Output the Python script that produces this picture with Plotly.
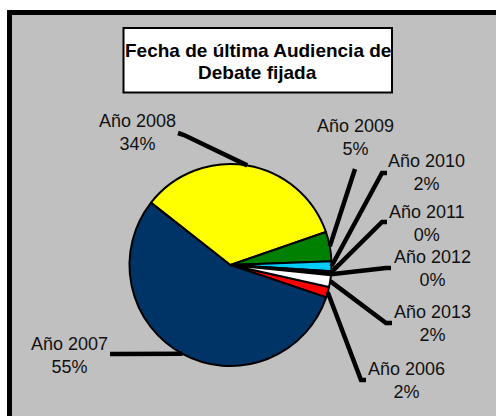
import math
import plotly.graph_objects as go

# Share of cases by year of the last scheduled debate hearing (%)
years = ["2006", "2007", "2008", "2009", "2010", "2011", "2012", "2013"]
shares = [1.7, 55.4, 34.1, 4.7, 1.6, 0.3, 0.3, 1.9]
slice_colors = ["#FF0000", "#003366", "#FFFF00", "#008000",
                "#00CCFF", "#000000", "#000000", "#FFFFFF"]
title_lines = ["Fecha de última Audiencia de", "Debate fijada"]

# ---- layout constants (pixels) ----
W, H = 496, 416
CX, CY, R = 230.5, 265.0, 101.0
ROTATION = 102.6          # first slice starts here, degrees clockwise from 12 o'clock
FONT = "Liberation Sans, Arial, Helvetica, sans-serif"

# label centre and leader-line waypoints (from the pie edge to the label)
label_center = {
    "2006": (406.5, 380), "2007": (69, 355), "2008": (137.5, 132),
    "2009": (355.5, 137.5), "2010": (426.5, 172.5), "2011": (427, 223),
    "2012": (432.5, 268), "2013": (432.5, 323),
}
leader_tail = {
    "2006": [(361, 380), (366, 380)],
    "2007": [(115, 354), (110, 354)],
    "2008": [(184, 135), (178, 133)],
    "2009": [(355, 169)],
    "2010": [(382, 173), (387, 173)],
    "2011": [(382, 222), (387, 222)],
    "2012": [(386, 268), (391, 268)],
    "2013": [(386, 323), (392, 323)],
}


def px(x):
    return x / W


def py(y):
    return 1 - y / H


total = sum(shares)
fig = go.Figure()

fig.add_trace(go.Pie(
    labels=["Año " + y for y in years],
    values=shares,
    sort=False,
    direction="clockwise",
    rotation=ROTATION,
    textinfo="none",
    hovertemplate="%{label}: %{percent}<extra></extra>",
    marker=dict(colors=slice_colors, line=dict(color="#000000", width=2)),
    domain=dict(x=[px(CX - R), px(CX + R)], y=[py(CY + R), py(CY - R)]),
    showlegend=False,
))

shapes = [
    # chart area with heavy frame
    dict(type="rect", xref="paper", yref="paper",
         x0=px(9.5), x1=px(W + 30), y0=py(H + 30), y1=py(12.5),
         fillcolor="#C0C0C0", line=dict(color="#000000", width=5), layer="below"),
    # title box
    dict(type="rect", xref="paper", yref="paper",
         x0=px(123.5), x1=px(392), y0=py(92.5), y1=py(28),
         fillcolor="#FFFFFF", line=dict(color="#000000", width=2), layer="above"),
]

annotations = []
cum = 0.0
for year, v in zip(years, shares):
    mid = math.radians(ROTATION + (cum + v / 2) / total * 360)
    cum += v
    sx = CX + R * math.sin(mid)
    sy = CY - R * math.cos(mid)
    pts = [(sx, sy)] + leader_tail[year]
    path = "M " + " L ".join(f"{px(x):.5f},{py(y):.5f}" for x, y in pts)
    shapes.append(dict(type="path", xref="paper", yref="paper", path=path,
                       line=dict(color="#000000", width=4.5), layer="above"))
    lx, ly = label_center[year]
    pct = round(v / total * 100)
    annotations.append(dict(
        xref="paper", yref="paper", x=px(lx), y=py(ly),
        xanchor="center", yanchor="middle", showarrow=False,
        text=f"Año {year}<br>{pct}%", align="center",
        font=dict(family=FONT, size=18, color="#111111"),
    ))

for text, ty in zip(title_lines, [50, 73]):
    annotations.append(dict(
        xref="paper", yref="paper", x=px(257.5), y=py(ty),
        xanchor="center", yanchor="middle", showarrow=False,
        text=f"<b>{text}</b>",
        font=dict(family=FONT, size=19, color="#000000"),
    ))

fig.update_layout(
    width=W, height=H,
    margin=dict(l=0, r=0, t=0, b=0),
    paper_bgcolor="#FFFFFF",
    shapes=shapes,
    annotations=annotations,
)

fig.write_html("out.html")
